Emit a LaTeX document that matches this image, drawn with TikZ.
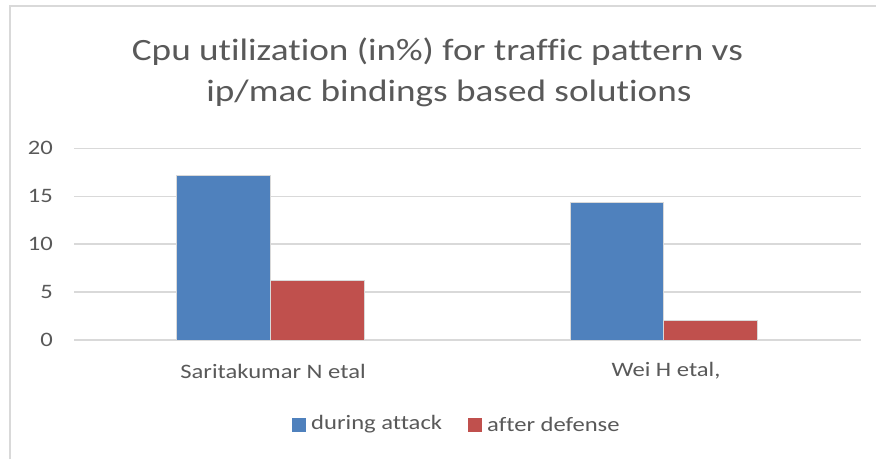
\documentclass[tikz,border=0pt]{standalone}
\usepackage{fontspec}
\setmainfont{Carlito}[FakeStretch=1.2, Ligatures={NoCommon}]
\definecolor{txtgray}{HTML}{595959}
\definecolor{gridgray}{HTML}{D9D9D9}
\definecolor{barblue}{HTML}{4F81BD}
\definecolor{barred}{HTML}{C0504D}
\tikzset{
  gridline/.style={draw=gridgray, line width=1.6pt},
  frameline/.style={draw=gridgray, line width=2pt},
  barbase/.style={draw=white!70!gray, line width=0.6pt},
  bluebar/.style={barbase, fill=barblue},
  redbar/.style={barbase, fill=barred},
  titletext/.style={text=txtgray, font=\fontsize{31}{41.5}\selectfont, anchor=base, inner sep=0pt},
  labelfont/.style={text=txtgray, font=\fontsize{20.5}{22}\selectfont, inner sep=0pt},
  ticklabel/.style={labelfont, anchor=east},
  catlabel/.style={labelfont},
  legendkey/.style={minimum width=14pt, minimum height=14pt, inner sep=0pt},
  legendtext/.style={labelfont, anchor=west},
}
\begin{document}
\begin{tikzpicture}[x=1pt, y=-1pt]
\useasboundingbox (0,0) rectangle (876,459);
\fill[white] (0,0) rectangle (876,459);
% chart frame (top and left edges)
\draw[frameline] (10,459) -- (10,5.5) -- (876,5.5);
% title, two lines
\node[titletext] (title1) at (437.5,60) {Cpu utilization (in\%) for traffic pattern vs};
\node[titletext] (title2) at (449,101.5) {ip/mac bindings based solutions};
% horizontal grid lines and value labels
\foreach \v in {0,5,...,20} {
  \pgfmathsetmacro{\yy}{340-9.58*\v}
  \draw[gridline] (74,\yy) -- (861,\yy);
  \node[ticklabel] (tick\v) at (53,\yy) {\v};
}
% bars: 1 unit = 9.58
\draw[bluebar] (176.7,340) rectangle (270.3,{340-9.58*17.2});
\draw[redbar]  (270.3,340) rectangle (364.3,{340-9.58*6.27});
\draw[bluebar] (570.3,340) rectangle (663.7,{340-9.58*14.35});
\draw[redbar]  (663.7,340) rectangle (757.7,{340-9.58*2.06});
% category labels
\node[catlabel] (cat1) at (273,371) {Saritakumar N etal};
\node[catlabel] (cat2) at (666,371) {Wei H etal,};
% legend
\node[legendkey, fill=barblue] (key1) at (299,425) {};
\node[legendtext] (lab1) at (311,424) {during attack};
\node[legendkey, fill=barred] (key2) at (475,425) {};
\node[legendtext] (lab2) at (487,424) {after defense};
\end{tikzpicture}
\end{document}
